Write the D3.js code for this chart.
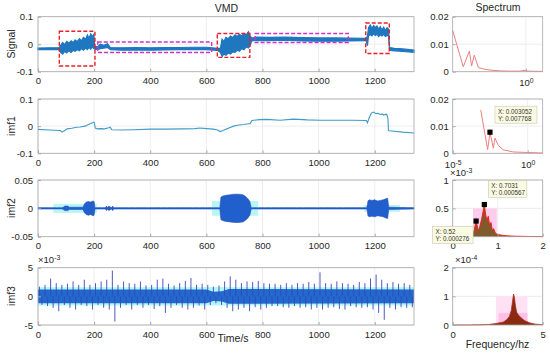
<!DOCTYPE html>
<html>
<head>
<meta charset="utf-8">
<script src="https://cdn.jsdelivr.net/npm/d3@7"></script>
<style>
body { margin: 0; background: #fff; }
svg { font-family: "Liberation Sans", Arial, sans-serif; }
</style>
</head>
<body>
<svg id="chart" width="550" height="355"></svg>
<script>
// values

const timeTicks = [0, 200, 400, 600, 800, 1000, 1200];

// raw signal: upper / lower edge of the plotted trace
const sigT  = [0,40,75, 80,88,95,102,110,118,125,132,140,148,155,162,170,176,182,188,194,199, 202,212,222,235,248,258,300,350,400,450,500,550,600,640, 650,656,662,670,678,686,694,702,710,718,726,734,742,750,756, 762,780,820,880,940,1000,1060,1110,1165, 1170,1174,1178,1184,1190,1196,1202,1208,1214,1220,1226,1232,1238,1244,1249, 1253,1270,1300,1340];
const sigHi = [-0.014,-0.013,-0.013, -0.005,0.006,-0.002,0.01,0.004,0.012,0.006,0.015,0.01,0.02,0.012,0.025,0.018,0.034,0.022,0.038,0.028,0.036, -0.008,-0.01,0.0,-0.004,0.002,-0.012,-0.013,-0.012,-0.013,-0.012,-0.012,-0.011,-0.011,-0.015, -0.015,0.018,0.01,0.025,0.02,0.03,0.024,0.034,0.028,0.036,0.03,0.04,0.034,0.045,0.03, 0.022,0.026,0.025,0.026,0.024,0.023,0.023,0.022,0.021, 0.02,0.03,0.06,0.07,0.058,0.068,0.06,0.066,0.055,0.064,0.052,0.062,0.05,0.06,0.055, -0.012,-0.015,-0.017,-0.021];
const sigLo = [-0.02,-0.019,-0.02, -0.03,-0.036,-0.026,-0.032,-0.024,-0.03,-0.022,-0.026,-0.02,-0.024,-0.016,-0.022,-0.014,-0.02,-0.012,-0.018,-0.01,-0.016, -0.018,-0.02,-0.016,-0.014,-0.012,-0.02,-0.022,-0.021,-0.022,-0.021,-0.02,-0.02,-0.02,-0.023, -0.03,-0.045,-0.036,-0.04,-0.032,-0.036,-0.028,-0.03,-0.022,-0.026,-0.016,-0.02,-0.01,-0.014,-0.005, 0.012,0.014,0.013,0.015,0.012,0.011,0.011,0.012,0.013, 0.013,-0.005,0.03,0.035,0.03,0.038,0.032,0.036,0.028,0.034,0.03,0.036,0.028,0.032,0.03, -0.022,-0.024,-0.026,-0.03];

// dashed boxes on the signal: t0, t1, v0, v1, kind
const boxes = [
  [76, 203, -0.079, 0.047, 'red'],
  [213, 619, -0.030, 0.008, 'mag'],
  [639, 755, -0.048, 0.039, 'red'],
  [774, 1106, 0.006, 0.039, 'mag'],
  [1168, 1252, -0.034, 0.077, 'red']
];

// imf1
const imf1T = [0,40,80,86,95,104,120,138,150,168,180,192,198,201,204,212,222,237,252,257,263,300,340,400,460,518,560,577,600,625,640,649,660,673,685,697,715,732,750,756,762,790,815,863,910,960,1005,1060,1120,1170,1174,1180,1188,1195,1205,1212,1219,1226,1232,1240,1243,1247,1249,1252,1300,1340];
const imf1V = [-0.012,-0.014,-0.016,-0.022,-0.016,-0.01,-0.008,-0.004,-0.003,0,0.006,0.012,0.015,0.012,-0.007,-0.01,-0.009,-0.01,-0.006,-0.004,-0.013,-0.014,-0.013,-0.011,-0.011,-0.01,-0.009,-0.007,-0.009,-0.011,-0.014,-0.02,-0.016,-0.01,-0.005,0,0.004,0.006,0.009,0.009,0.021,0.024,0.025,0.022,0.026,0.023,0.022,0.022,0.022,0.021,0.012,0.03,0.048,0.052,0.046,0.047,0.043,0.045,0.041,0.044,0.043,0.03,-0.016,-0.017,-0.022,-0.025];

// imf2: burst amplitude (symmetric about 0)
const imf2T   = [0,85,90,96,100,106,112,118,160,166,172,180,188,196,200,203,240,244,248,252,262,266,270,274,640,648,652,660,670,685,700,715,730,740,748,755,760,1172,1176,1180,1190,1200,1210,1220,1230,1240,1246,1250,1340];
const imf2Amp = [0.001,0.001,0.002,0.004,0.004,0.004,0.002,0.002,0.002,0.008,0.011,0.012,0.011,0.013,0.012,0.001,0.001,0.004,0.001,0.004,0.001,0.004,0.001,0.001,0.001,0.001,0.02,0.022,0.023,0.024,0.025,0.025,0.024,0.021,0.017,0.012,0.001,0.001,0.013,0.015,0.014,0.015,0.013,0.014,0.015,0.017,0.018,0.002,0.001];
// cyan halo: t0, t1, half height
const imf2Glow = [[0, 1340, 0.002], [55, 210, 0.008], [620, 785, 0.013], [1163, 1290, 0.006]];

// imf3 (x1e-3): extremes in each 20 s bin
const imf3T  = [0,20,40,60,80,100,120,140,160,180,200,220,240,260,280,300,320,340,360,380,400,420,440,460,480,500,520,540,560,580,600,620,640,660,680,700,720,740,760,780,800,820,840,860,880,900,920,940,960,980,1000,1020,1040,1060,1080,1100,1120,1140,1160,1180,1200,1220,1240,1260,1280,1300,1320];
const imf3Hi = [1.7,2.0,3.1,2.3,2.0,2.2,2.6,2.0,2.9,2.0,2.3,2.6,2.9,4.5,2.0,2.6,2.3,2.2,2.6,1.9,2.0,2.9,3.1,2.2,1.9,2.3,2.7,3.2,2.0,2.2,2.0,1.7,1.9,2.6,3.5,2.9,2.3,2.6,2.5,2.7,2.3,2.2,2.2,2.0,2.3,2.0,2.3,2.2,2.5,2.2,4.2,2.3,2.2,2.6,2.3,2.2,2.0,2.5,2.3,3.1,3.8,2.9,2.3,2.5,2.2,2.3,2.0];
const imf3Lo = [-1.5,-1.7,-2.0,-2.6,-1.5,-2.0,-2.3,-1.5,-1.7,-2.3,-1.5,-2.0,-2.3,-4.4,-2.0,-1.5,-2.3,-1.5,-2.0,-1.5,-2.2,-1.7,-2.9,-2.0,-1.5,-2.0,-2.3,-2.0,-1.6,-2.3,-1.5,-1.2,-1.5,-2.0,-2.6,-2.3,-2.0,-2.6,-1.9,-2.3,-2.0,-1.7,-1.7,-1.9,-2.0,-1.7,-2.0,-1.9,-2.3,-2.0,-2.3,-2.0,-1.9,-2.2,-2.3,-1.7,-1.9,-2.0,-1.9,-2.3,-2.9,-4.1,-2.0,-2.3,-1.9,-2.0,-1.9];
const imf3CoreT = [0, 600, 625, 655, 680, 1340];
const imf3Core  = [1.2, 1.2, 0.8, 0.9, 1.3, 1.2];

// spectra
const spec1F = [0.00056,0.00166,0.0031,0.0039,0.0051,0.0078,0.0129,0.0257,0.071,0.2,0.55,0.83,1.26,5.6];
const spec1A = [0.015,0.0018,0.0075,0.0021,0.006,0.0015,0.001,0.0006,0.0003,0.0002,0.0002,0.0005,0.0002,0.0001];
const spec2F = [0.00074,0.00214,0.003052,0.0051,0.0066,0.011,0.023,0.11,0.85,10];
const spec2A = [0.016,0.0013,0.007768,0.0019,0.0056,0.0029,0.0013,0.0005,0.0003,0.0001];
const spec3F = [0,0.3,0.4,0.45,0.48,0.5,0.52,0.55,0.58,0.61,0.64,0.67,0.7031,0.73,0.76,0.79,0.82,0.85,0.88,0.91,0.95,1.0,1.1,1.2,1.4,1.7,2.0];
const spec3A = [0,0.002,0.01,0.05,0.12,0.2,0.276,0.17,0.1,0.2,0.3,0.42,0.567,0.4,0.28,0.36,0.2,0.25,0.12,0.14,0.06,0.04,0.025,0.015,0.008,0.004,0.002]; // x1e-3
const spec3Pink = [[0.45, 0.98, 0, 0.5, '#ffcdeb']];
const spec4F = [0,1,1.5,2,2.4,2.8,3.0,3.15,3.25,3.32,3.38,3.42,3.48,3.55,3.65,3.8,4.0,4.3,4.6,5];
const spec4A = [0,0.003,0.008,0.02,0.05,0.1,0.18,0.3,0.5,0.8,1.08,1.0,0.7,0.45,0.35,0.25,0.15,0.07,0.03,0.01]; // x1e-4
const spec4Pink = [[2.4, 4.15, 0, 1.0, '#ffe1f4'], [2.55, 4.15, 0, 0.42, '#ffbfe7']];

// data tips
const tipX = [0.003052, 0.7031, 0.52];
const tipY = [0.007768, 0.567, 0.276];
const tipLines = [['X: 0.003052', 'Y: 0.007768'], ['X: 0.7031', 'Y: 0.000567'], ['X: 0.52', 'Y: 0.000276']];

// ---- drawing ----
const svg = d3.select('#chart');
const rows = [[16.7, 71.7], [99, 153.3], [180, 236.7], [267.7, 325]];
const L = [38, 414], R = [452.7, 542.7];
const FS = 9.5;

function panel(x, y, xTicks, yTicks, o = {}) {
    const grid = svg.append('g');
    const data = svg.append('g');
    const axes = svg.append('g');
    const [xa, xb] = x.range();
    const [yb, ya] = y.range();

    grid.selectAll('line.gx').data(xTicks).join('line')
        .attr('x1', d => x(d)).attr('x2', d => x(d)).attr('y1', ya).attr('y2', yb)
        .attr('stroke', '#e8e8e8').attr('stroke-width', 0.8);
    grid.selectAll('line.gy').data(yTicks).join('line')
        .attr('x1', xa).attr('x2', xb).attr('y1', d => y(d)).attr('y2', d => y(d))
        .attr('stroke', '#e8e8e8').attr('stroke-width', 0.8);

    axes.append('rect')
        .attr('x', xa).attr('y', ya).attr('width', xb - xa).attr('height', yb - ya)
        .attr('fill', 'none').attr('stroke', '#a8a8a8').attr('stroke-width', 0.8);

    const ax = axes.append('g').attr('transform', `translate(0,${yb})`)
        .call(d3.axisBottom(x).tickValues(xTicks).tickSize(-3).tickSizeOuter(0)
            .tickPadding(o.xPad || 6).tickFormat(o.xFmt || (d => String(d))));
    const ay = axes.append('g').attr('transform', `translate(${xa},0)`)
        .call(d3.axisLeft(y).tickValues(yTicks).tickSize(-3).tickSizeOuter(0)
            .tickPadding(o.yPad || 5).tickFormat(o.yFmt || (d => String(d))));
    [ax, ay].forEach(a => {
        a.select('.domain').remove();
        a.selectAll('line').attr('stroke', '#a8a8a8');
        a.selectAll('text').attr('font-size', FS).attr('fill', '#262626').attr('font-family', null);
    });
    if (o.log) {
        ax.selectAll('text').each(function (d) {
            const t = d3.select(this).text('10');
            t.append('tspan').attr('dy', '-0.5em').attr('font-size', '0.72em')
                .text(String(Math.round(Math.log10(d))));
        });
    }
    return data;
}

function expLabel(x, y, exp) {
    const t = svg.append('text').attr('x', x).attr('y', y)
        .attr('font-size', FS).attr('fill', '#262626').text('\u00d710');
    t.append('tspan').attr('dy', '-0.5em').attr('font-size', '0.72em').text(exp);
}

function label(x, y, s, rot) {
    svg.append('text')
        .attr('transform', `translate(${x},${y})` + (rot ? ' rotate(-90)' : ''))
        .attr('text-anchor', 'middle').attr('font-size', 10.5).attr('fill', '#262626')
        .text(s);
}

const tx = d3.scaleLinear().domain([0, 1340]).range(L);

// --- Signal ---
{
    const y = d3.scaleLinear().domain([-0.1, 0.1]).range([rows[0][1], rows[0][0]]);
    const g = panel(tx, y, timeTicks, [-0.1, 0, 0.1]);
    const pts = sigT.map((t, i) => [t, sigLo[i], sigHi[i]]);
    g.append('path').datum(pts)
        .attr('d', d3.area().x(d => tx(d[0])).y0(d => y(d[1])).y1(d => y(d[2])))
        .attr('fill', '#1f77c0').attr('stroke', '#1f77c0').attr('stroke-width', 1.2);
    g.selectAll('rect.box').data(boxes).join('rect')
        .attr('x', d => tx(d[0])).attr('y', d => y(d[3]))
        .attr('width', d => tx(d[1]) - tx(d[0])).attr('height', d => y(d[2]) - y(d[3]))
        .attr('fill', 'none')
        .attr('stroke', d => d[4] === 'red' ? '#e8202a' : '#cc33cc')
        .attr('stroke-width', 1.4).attr('stroke-dasharray', '4,2');
}

// --- imf1 ---
{
    const y = d3.scaleLinear().domain([-0.1, 0.1]).range([rows[1][1], rows[1][0]]);
    const g = panel(tx, y, timeTicks, [-0.1, 0, 0.1]);
    g.append('path').datum(imf1T.map((t, i) => [t, imf1V[i]]))
        .attr('d', d3.line().x(d => tx(d[0])).y(d => y(d[1])))
        .attr('fill', 'none').attr('stroke', '#3f9cc8').attr('stroke-width', 1.1);
}

// --- imf2 ---
{
    const y = d3.scaleLinear().domain([-0.05, 0.05]).range([rows[2][1], rows[2][0]]);
    const g = panel(tx, y, timeTicks, [-0.05, 0, 0.05]);
    g.selectAll('rect.glow').data(imf2Glow).join('rect')
        .attr('x', d => tx(d[0])).attr('y', d => y(d[2]))
        .attr('width', d => tx(d[1]) - tx(d[0])).attr('height', d => y(-d[2]) - y(d[2]))
        .attr('fill', '#b6f6f6');
    g.append('line').attr('x1', tx(0)).attr('x2', tx(1340)).attr('y1', y(0)).attr('y2', y(0))
        .attr('stroke', '#3348b0').attr('stroke-width', 1).attr('stroke-dasharray', '5,1.5');
    g.append('path').datum(imf2T.map((t, i) => [t, imf2Amp[i]]))
        .attr('d', d3.area().x(d => tx(d[0])).y0(d => y(-d[1])).y1(d => y(d[1])))
        .attr('fill', '#2160cc').attr('stroke', '#2a4fbd').attr('stroke-width', 0.6);
}

// --- imf3 ---
{
    const y = d3.scaleLinear().domain([-5, 5]).range([rows[3][1], rows[3][0]]);
    const g = panel(tx, y, timeTicks, [-5, 0, 5]);
    g.append('rect').attr('x', tx(0)).attr('y', y(1.6))
        .attr('width', tx(1340) - tx(0)).attr('height', y(-1.6) - y(1.6))
        .attr('fill', '#b3f6f6');
    g.append('path').datum(imf3CoreT.map((t, i) => [t, imf3Core[i]]))
        .attr('d', d3.area().x(d => tx(d[0])).y0(d => y(-d[1])).y1(d => y(d[1])))
        .attr('fill', '#2168cf');
    // one upward and one downward spike per bin
    const spikes = [];
    imf3T.forEach((t, i) => {
        spikes.push([t + 5, 0, imf3Hi[i]]);
        spikes.push([t + 14, 0, imf3Lo[i]]);
    });
    g.selectAll('line.sp').data(spikes).join('line')
        .attr('x1', d => tx(d[0])).attr('x2', d => tx(d[0]))
        .attr('y1', d => y(d[1])).attr('y2', d => y(d[2]))
        .attr('stroke', '#3a47b2').attr('stroke-width', 0.9);
    expLabel(38, 263, '-3');
}

// --- spectrum 1 ---
{
    const x = d3.scaleLog().domain([10 ** -3.25, 10 ** 0.75]).range(R);
    const y = d3.scaleLinear().domain([0, 0.02]).range([rows[0][1], rows[0][0]]);
    const g = panel(x, y, [1], [0, 0.01, 0.02], { log: true, yPad: 4, xPad: 8 });
    g.append('path').datum(spec1F.map((f, i) => [f, spec1A[i]]))
        .attr('d', d3.line().x(d => x(d[0])).y(d => y(d[1])))
        .attr('fill', 'none').attr('stroke', '#ee8080').attr('stroke-width', 1);
}

// --- spectrum 2 ---
let s2x, s2y;
{
    s2x = d3.scaleLog().domain([1e-5, 10]).range(R);
    s2y = d3.scaleLinear().domain([0, 0.02]).range([rows[1][1], rows[1][0]]);
    const g = panel(s2x, s2y, [1e-5, 1], [0, 0.01, 0.02], { log: true, yPad: 4, xPad: 8 });
    g.append('path').datum(spec2F.map((f, i) => [f, spec2A[i]]))
        .attr('d', d3.line().x(d => s2x(d[0])).y(d => s2y(d[1])))
        .attr('fill', 'none').attr('stroke', '#ee8080').attr('stroke-width', 1);
    expLabel(450, 176, '-3');
}

// --- spectrum 3 ---
let s3x, s3y;
{
    s3x = d3.scaleLinear().domain([0, 2]).range(R);
    s3y = d3.scaleLinear().domain([0, 1]).range([rows[2][1], rows[2][0]]);
    const g = panel(s3x, s3y, [0, 1, 2], [0, 0.5, 1], { yPad: 4 });
    g.selectAll('rect.pk').data(spec3Pink).join('rect')
        .attr('x', d => s3x(d[0])).attr('y', d => s3y(d[3]))
        .attr('width', d => s3x(d[1]) - s3x(d[0])).attr('height', d => s3y(d[2]) - s3y(d[3]))
        .attr('fill', d => d[4]);
    const pts = spec3F.map((f, i) => [f, spec3A[i]]);
    g.append('path').datum(pts)
        .attr('d', d3.area().x(d => s3x(d[0])).y0(s3y(0)).y1(d => s3y(d[1])))
        .attr('fill', '#7f5a2a');
    g.append('path').datum(pts)
        .attr('d', d3.line().x(d => s3x(d[0])).y(d => s3y(d[1])))
        .attr('fill', 'none').attr('stroke', '#f02020').attr('stroke-width', 1);
    expLabel(455, 263, '-4');
}

// --- spectrum 4 ---
{
    const x = d3.scaleLinear().domain([0, 5]).range(R);
    const y = d3.scaleLinear().domain([0, 2]).range([rows[3][1], rows[3][0]]);
    const g = panel(x, y, [0, 5], [0, 1, 2], { yPad: 4 });
    g.selectAll('rect.pk').data(spec4Pink).join('rect')
        .attr('x', d => x(d[0])).attr('y', d => y(d[3]))
        .attr('width', d => x(d[1]) - x(d[0])).attr('height', d => y(d[2]) - y(d[3]))
        .attr('fill', d => d[4]);
    const pts = spec4F.map((f, i) => [f, spec4A[i]]);
    g.append('path').datum(pts)
        .attr('d', d3.area().x(d => x(d[0])).y0(y(0)).y1(d => y(d[1])))
        .attr('fill', '#8a2a10');
    g.append('path').datum(pts)
        .attr('d', d3.line().x(d => x(d[0])).y(d => y(d[1])))
        .attr('fill', 'none').attr('stroke', '#b03020').attr('stroke-width', 0.8);
}

// --- data tips (drawn on top) ---
function tip(px, py, lines, dx, dy, w) {
    const g = svg.append('g');
    g.append('rect').attr('x', px + dx).attr('y', py + dy).attr('width', w).attr('height', 17)
        .attr('fill', '#fbfbe2').attr('stroke', '#c9c9b0').attr('stroke-width', 0.6);
    lines.forEach((s, i) => g.append('text')
        .attr('x', px + dx + 3).attr('y', py + dy + 7.3 + i * 7.2)
        .attr('font-size', 6.3).attr('fill', '#333').text(s));
    g.append('rect').attr('x', px - 2.6).attr('y', py - 2.6).attr('width', 5.2).attr('height', 5.2)
        .attr('fill', '#000');
}
tip(s2x(tipX[0]), s2y(tipY[0]), tipLines[0], 5, -26, 42);
tip(s3x(tipX[1]), s3y(tipY[1]), tipLines[1], 4, -24, 38.5);
tip(s3x(tipX[2]), s3y(tipY[2]), tipLines[2], -43.5, 5.5, 40.5);

// --- titles and axis labels ---
label(226.5, 11.5, 'VMD');
label(498, 11, 'Spectrum');
label(233, 341.5, 'Time/s');
label(497.5, 347.5, 'Frequency/hz');
label(14.5, 44, 'Signal', true);
label(14.5, 126, 'imf1', true);
label(14.5, 208, 'imf2', true);
label(14.5, 296, 'imf3', true);
</script>
</body>
</html>
